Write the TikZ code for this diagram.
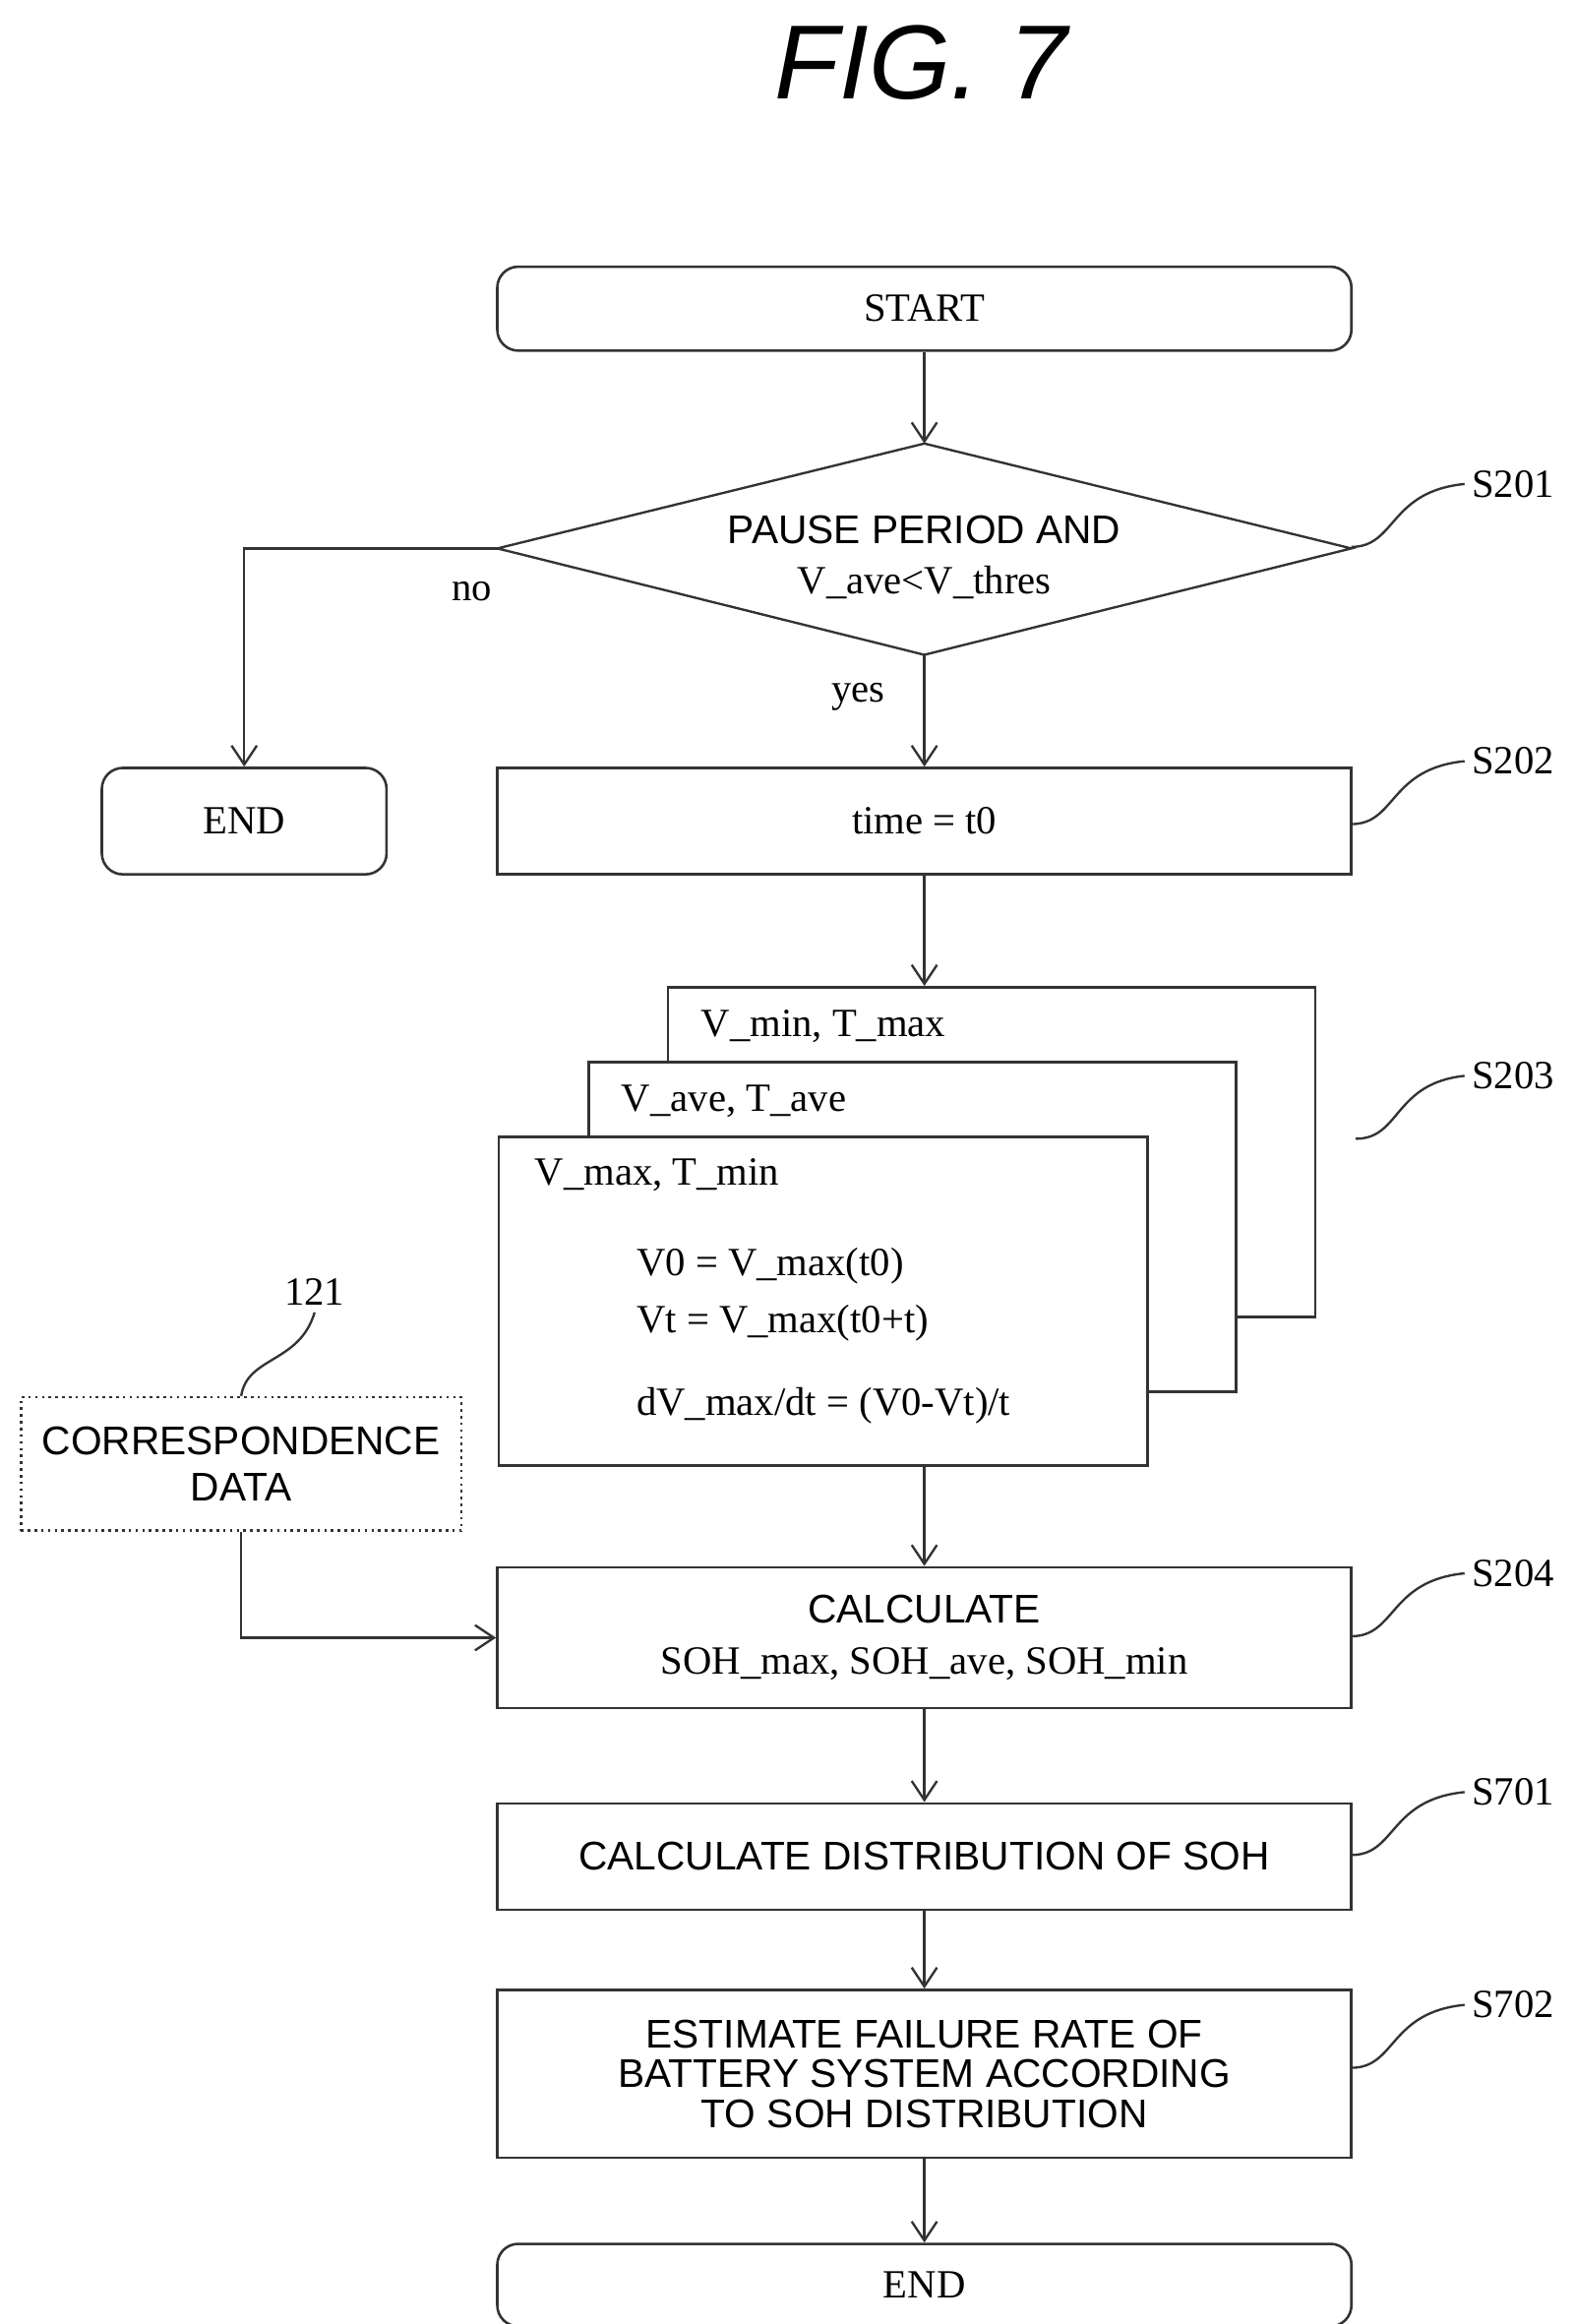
\documentclass[tikz,border=0pt]{standalone}
\usepackage{fontspec}
\setmainfont{Liberation Serif}
\setsansfont{Liberation Sans}
\usetikzlibrary{arrows.meta}
\tikzset{
	flow/.style={draw=black!80, line width=1.2pt, fill=white, minimum width=14.25cm, minimum height=1.775cm, inner sep=0pt, align=center, font=\fontsize{19}{22}\selectfont},
	term/.style={flow, rounded corners=.35cm},
	sheet/.style={draw=black!80, line width=1.2pt, fill=white, anchor=north west, inner sep=0pt},
	arr/.style={draw=black!80, line width=1.1pt, -{Straight Barb[length=9pt, width=12pt]}},
	wire/.style={draw=black!80, line width=1.1pt},
	txt/.style={font=\fontsize{19}{22}\selectfont},
	sans/.style={font=\sffamily\fontsize{19}{22}\selectfont},
}
\begin{document}
\begin{tikzpicture}[x=.025cm, y=-.025cm]
	\useasboundingbox (0,0) rectangle (1050,1551);
	\node[font=\sffamily\itshape\fontsize{50}{56}\selectfont] (fig) at (615,42) {FIG.\ 7};
	% start and first test
	\node[term, minimum height=1.4cm] (start) at (617,206) {START};
	\coordinate (dtop) at (617,296);
	\coordinate (dbot) at (617,437);
	\coordinate (dleft) at (332,366);
	\coordinate (dright) at (902,366);
	\draw[wire] (dtop) -- (dright) -- (dbot) -- (dleft) -- cycle;
	\node[align=center, txt] (test) at (617,372) {\sffamily PAUSE PERIOD AND\\[2pt] V\_ave<V\_thres};
	\node[term, minimum width=4.75cm] (endno) at (163,548) {END};
	\node[txt] (no) at (315,395) {no};
	\node[txt] (yes) at (573,465) {yes};
	\node[flow] (time) at (617,548) {time = t0};
	% stacked sheets
	\node[sheet, minimum width=10.8cm, minimum height=5.5cm] (vmin) at (445,658) {};
	\node[sheet, minimum width=10.8cm, minimum height=5.5cm] (vave) at (392,708) {};
	\node[sheet, minimum width=10.825cm, minimum height=5.475cm] (vmax) at (332,758) {};
	\node[txt, anchor=west] (tmin) at (463,685) {V\_min, T\_max};
	\node[txt, anchor=west] (tave) at (410,735) {V\_ave, T\_ave};
	\node[txt, anchor=west] (tmax) at (352,784) {V\_max, T\_min};
	\node[txt, anchor=west] (v0) at (420,845) {V0 = V\_max(t0)};
	\node[txt, anchor=west] (vt) at (420,883) {Vt = V\_max(t0+t)};
	\node[txt, anchor=west] (dv) at (420,938) {dV\_max/dt = (V0-Vt)/t};
	\coordinate (vbot) at (617,977);
	% data and soh steps
	\node[draw=black!80, line width=1.2pt, dotted, minimum width=7.35cm, minimum height=2.225cm, align=center, sans] (data) at (161,977) {CORRESPONDENCE\\DATA};
	\node[txt] (ref) at (210,862) {121};
	\node[flow, minimum height=2.35cm] (soh) at (617,1093) {\sffamily CALCULATE\\[2pt] SOH\_max, SOH\_ave, SOH\_min};
	\node[flow] (dist) at (617,1239) {\sffamily CALCULATE DISTRIBUTION OF SOH};
	\node[flow, minimum height=2.8cm, font=\sffamily\fontsize{19}{19}\selectfont] (rate) at (617,1384) {ESTIMATE FAILURE RATE OF\\BATTERY SYSTEM ACCORDING\\TO SOH DISTRIBUTION};
	\node[term, minimum height=1.375cm] (fin) at (617,1525) {END};
	% connectors
	\draw[arr] (start) -- (dtop);
	\draw[arr] (dleft) -| (endno);
	\draw[arr] (dbot) -- (time);
	\draw[arr] (time) -- (617,658);
	\draw[arr] (vbot) -- (soh);
	\draw[arr] (data) |- (soh);
	\draw[arr] (soh) -- (dist);
	\draw[arr] (dist) -- (rate);
	\draw[arr] (rate) -- (fin);
	% step labels
	\foreach \s/\y/\x in {S201/323/902, S202/508/902, S203/718/905, S204/1050/902, S701/1196/902, S702/1338/902} {
		\node[txt] (lab\s) at (1010,\y) {\s};
		\draw[wire] (\x,\y+42) .. controls (\x+30,\y+42) and (\x+25,\y+5) .. (lab\s.west);
	}
	\draw[wire] (data.north) .. controls (165,905) and (200,910) .. (ref.south);
\end{tikzpicture}
\end{document}
